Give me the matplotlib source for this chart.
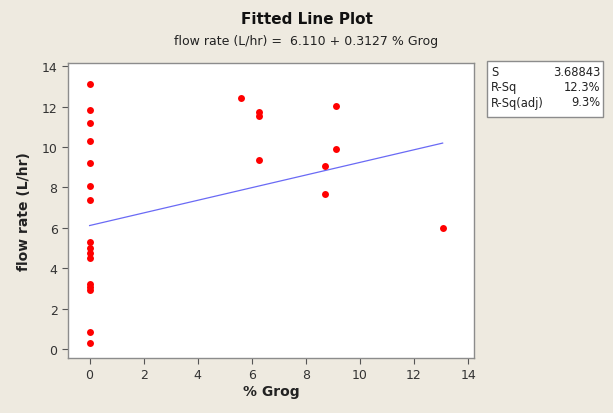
import numpy as np
import matplotlib.pyplot as plt

# data
grog = [0, 0, 0, 0, 0, 0, 0, 0, 0, 0, 0, 0, 0, 0, 0, 0,
        5.6, 6.27, 6.27, 6.27, 8.72, 8.72, 9.11, 9.11, 13.06]
flow = [13.12, 11.83, 11.19, 10.3, 9.21, 8.07, 7.38, 5.3, 5.0, 4.75, 4.5,
        3.22, 3.07, 2.92, 0.84, 0.3,
        12.41, 11.72, 11.55, 9.34, 9.06, 7.67, 12.01, 9.92, 6.0]

intercept = 6.110
slope = 0.3127
stat_names = ["S", "R-Sq", "R-Sq(adj)"]
stat_values = ["3.68843", "12.3%", "9.3%"]

bg = "#EEEAE0"
fig = plt.figure(figsize=(6.13, 4.14), dpi=100, facecolor=bg)
ax = fig.add_axes([68 / 613, 1 - 359 / 414, 406 / 613, 295 / 414])
ax.set_facecolor("white")

ax.scatter(grog, flow, s=25, color="#FF0000", zorder=3, linewidths=0)
xf = np.array([min(grog), max(grog)])
ax.plot(xf, intercept + slope * xf, color="#6A6AF5", lw=0.9, zorder=2)

ax.set_xlim(-0.8, 14.22)
ax.set_ylim(-0.45, 14.16)
ax.set_xticks(range(0, 15, 2))
ax.set_yticks(range(0, 15, 2))
for sp in ax.spines.values():
    sp.set_color("#8C8C8C")
    sp.set_linewidth(1.0)
ax.tick_params(colors="#555555", labelcolor="#333333", labelsize=9,
               length=4, width=0.8)
ax.set_xlabel("% Grog", fontsize=10, fontweight="bold", color="#222222", labelpad=2)
ax.set_ylabel("flow rate (L/hr)", fontsize=10, fontweight="bold", color="#222222", labelpad=8)

fig.text(0.5, 1 - 20 / 414, "Fitted Line Plot", ha="center", va="center",
         fontsize=11, fontweight="bold", color="#111111")
fig.text(0.5, 1 - 42 / 414, "flow rate (L/hr) =  %.3f + %.4f %% Grog" % (intercept, slope),
         ha="center", va="center", fontsize=9, color="#222222")

# stats box
bx0, bx1 = 487 / 613, 603 / 613
by0, by1 = 1 - 118 / 414, 1 - 62 / 414
box = plt.Rectangle((bx0, by0), bx1 - bx0, by1 - by0, transform=fig.transFigure,
                    facecolor="white", edgecolor="#8C8C8C", lw=1.0)
fig.patches.append(box)
for i, (n, v) in enumerate(zip(stat_names, stat_values)):
    yy = 1 - (72 + i * 15.5) / 414
    fig.text(bx0 + 4 / 613, yy, n, ha="left", va="center", fontsize=8.3, color="#222222")
    fig.text(bx1 - 3 / 613, yy, v, ha="right", va="center", fontsize=8.3, color="#222222")

fig.savefig("out.png", dpi=100, facecolor=bg)
